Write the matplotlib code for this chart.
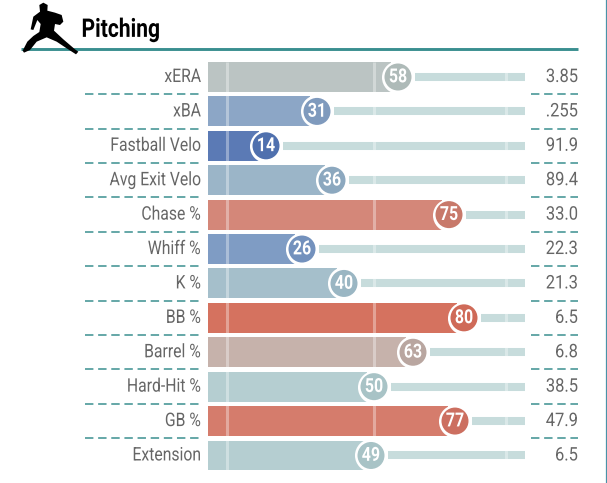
import matplotlib
matplotlib.use("Agg")
import matplotlib.pyplot as plt
from matplotlib.patches import Polygon
from matplotlib.patheffects import AbstractPathEffect
from matplotlib.transforms import Affine2D

labels = ["xERA", "xBA", "Fastball Velo", "Avg Exit Velo", "Chase %", "Whiff %",
          "K %", "BB %", "Barrel %", "Hard-Hit %", "GB %", "Extension"]
percentiles = [58, 31, 14, 36, 75, 26, 40, 80, 63, 50, 77, 49]
values = ["3.85", ".255", "91.9", "89.4", "33.0", "22.3", "21.3", "6.5", "6.8", "38.5", "47.9", "6.5"]
bar_colors = ["#bbc4c3", "#8ca6c6", "#5b7ab5", "#9bb5c8", "#d48779", "#7f9cc4",
              "#a5bfcb", "#d5725f", "#c6b2ab", "#b5ced1", "#d57c6c", "#b5ced1"]
dot_colors = ["#aebab8", "#7f9abd", "#4f70ae", "#8ca8bf", "#c8796a", "#7391bd",
              "#9ab6c3", "#cf6a58", "#b9a6a0", "#a8c3c6", "#cc6f60", "#a8c3c6"]
marks = [1, 50, 94]

# pitcher icon outline, in reference pixels x3
icon = [(68, 152), (82, 125), (100, 108), (118, 96), (122, 72), (112, 60), (100, 90), (92, 88),
        (100, 50), (120, 35), (118, 15), (130, 8), (143, 15), (142, 32), (165, 38), (185, 45),
        (190, 65), (180, 75), (165, 72), (162, 92), (190, 118), (225, 148), (235, 155), (228, 163),
        (200, 145), (170, 125), (140, 112), (110, 125), (90, 150), (72, 158)]

teal = "#3a8f90"
track = "#c7dcdc"
grey = "#666666"


# no condensed font installed, so squeeze the glyphs sideways around an anchor
class Squeeze(AbstractPathEffect):
    def __init__(self, anchor, factor):
        super().__init__()
        self.anchor = anchor
        self.factor = factor

    def draw_path(self, renderer, gc, tpath, affine, rgbFace=None):
        squeeze = Affine2D().translate(-self.anchor, 0).scale(self.factor, 1).translate(self.anchor, 0)
        renderer.draw_path(gc, tpath, affine + squeeze, rgbFace)


fig = plt.figure(figsize=(6.07, 4.83), dpi=100)
ax = fig.add_axes([0, 0, 1, 1])
# x is the percentile, y the row number, both laid over the whole picture
ax.set_xlim(-74.67, 127.67)
ax.set_ylim(11.80, -2.238)
ax.axis("off")


def narrow_text(x, y, s, factor, **kw):
    px = ax.transData.transform((x, y))[0]
    t = ax.text(x, y, s, va="center", family="Roboto", **kw)
    t.set_path_effects([Squeeze(px, factor)])


y_pos = list(range(len(labels)))
ax.barh(y_pos, [p + 3 for p in percentiles], left=-5.33, height=0.87, color=bar_colors, zorder=1)
for y, p in zip(y_pos, percentiles):
    ax.plot([p + 5.6, 100.3], [y, y], color=track, lw=5.8, solid_capstyle="butt", zorder=1)
for m in marks:
    ax.vlines(m, -0.44, 11.44, color="white", lw=2.2, alpha=0.35, zorder=2)
ax.scatter(percentiles, y_pos, s=566, color="white", zorder=3, linewidths=0)
ax.scatter(percentiles, y_pos, s=378, c=dot_colors, zorder=4, linewidths=0)

for y, lab, p, val in zip(y_pos, labels, percentiles, values):
    narrow_text(-7.7, y, lab, 0.84, ha="right", color=grey, fontsize=13.5)
    narrow_text(p, y + 0.01, str(p), 0.82, ha="center", color="white", fontsize=14,
                fontweight="bold", zorder=5)
    narrow_text(118, y, val, 0.88, ha="right", color=grey, fontsize=13.5)

for y in y_pos[:-1]:
    ax.plot([-46.5, -7.7], [y + 0.5, y + 0.5], color=teal, lw=1.1, dashes=(5.5, 3.1), zorder=1)
    ax.plot([102.5, 118], [y + 0.5, y + 0.5], color=teal, lw=1.1, dashes=(5.5, 3.1), zorder=1)

# header rule, title and icon
ax.plot([-67.7, 118], [-0.825, -0.825], color=teal, lw=2.1, solid_capstyle="butt")
narrow_text(-47.5, -1.37, "Pitching", 0.82, ha="left", color="black", fontsize=18.5, fontweight="bold")
to_pixels = Affine2D().scale(1 / 3, -1 / 3).translate(0, 483)
ax.add_patch(Polygon(icon, closed=True, color="black", lw=0, zorder=6, transform=to_pixels))

# thin frame line down the right edge of the picture
ax.axvline(127.35, color="#4a93a8", lw=0.9)

fig.savefig("out.png", dpi=100)
